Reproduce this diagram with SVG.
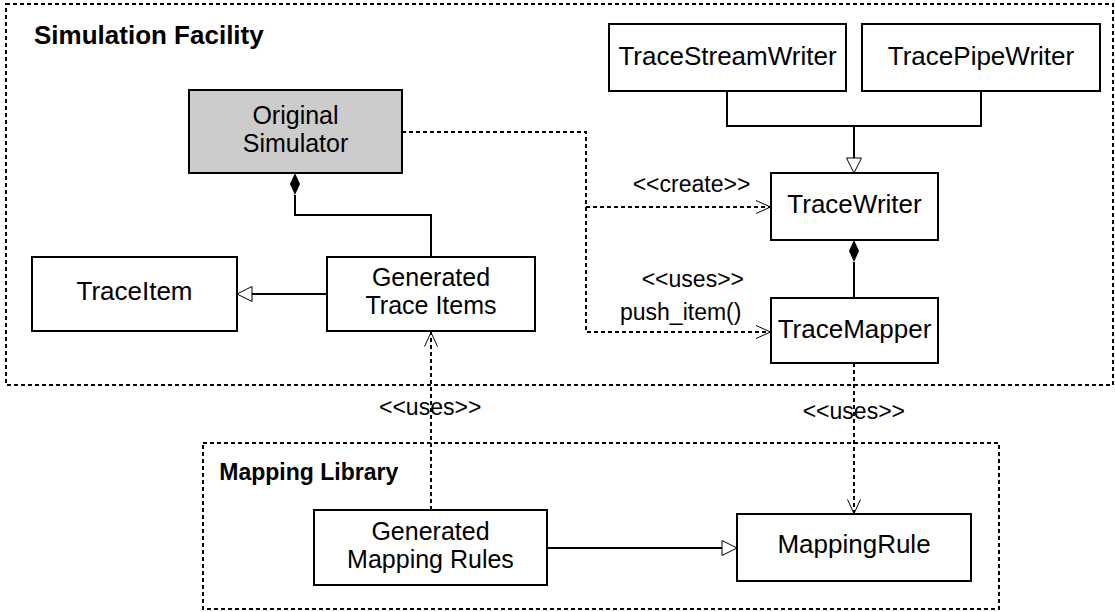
<svg xmlns="http://www.w3.org/2000/svg" width="1115" height="612" viewBox="0 0 1115 612">
<style>
.box{fill:#fff;stroke:#000;stroke-width:2}
.gray{fill:#cccccc}
.frame{fill:none;stroke:#000;stroke-width:2;stroke-dasharray:4 3}
.t{font-family:"Liberation Sans",Arial,sans-serif;font-size:26px;text-anchor:middle;fill:#000}
.t2{font-size:25px}
.lbl{font-family:"Liberation Sans",Arial,sans-serif;font-size:23px;fill:#000}
.title{font-family:"Liberation Sans",Arial,sans-serif;font-weight:bold;fill:#000}
.solid{fill:none;stroke:#000;stroke-width:2}
.dash{fill:none;stroke:#000;stroke-width:2;stroke-dasharray:4 3}
.tri{fill:#fff;stroke:#000;stroke-width:1}
.open{fill:none;stroke:#000;stroke-width:1}
.dia{fill:#000}
</style>
<rect width="1115" height="612" fill="#fff"/>
<g id="frames">
<rect class="frame" x="6" y="4" width="1107" height="381"/>
<text class="title" x="34" y="44" font-size="26">Simulation Facility</text>
<rect class="frame" x="203" y="443" width="796" height="166"/>
<text class="title" x="219.3" y="480" font-size="23">Mapping Library</text>
</g>
<g id="connectors">
<path class="solid" d="M295,195 V215 H431 V257"/>
<path class="dia" d="M295,173 L300,184 L295,195 L290,184 Z"/>
<path class="solid" d="M327,294 H252"/>
<polygon class="tri" points="237,294 252,286.5 252,301.5"/>
<path class="solid" d="M727,91 V126 H981 V91 M854,126 V158"/>
<polygon class="tri" points="854,173 846.5,158 861.5,158"/>
<path class="dia" d="M854,240 L859,251 L854,262 L849,251 Z"/>
<path class="solid" d="M854,262 V298"/>
<path class="dash" d="M402,132 H586 V332 H771 M586,207 H771"/>
<path class="open" d="M756,200.5 L770.5,207 L756,213.5 M756,325.5 L770.5,332 L756,338.5"/>
<path class="dash" d="M854,363 V514"/>
<path class="open" d="M847.5,499.5 L854,513.5 L860.5,499.5"/>
<path class="dash" d="M431,510 V332"/>
<path class="open" d="M424.5,346.5 L431,332.5 L437.5,346.5"/>
<path class="solid" d="M547,548 H722"/>
<polygon class="tri" points="737,548 722,540.5 722,555.5"/>
<text class="lbl" x="632.7" y="191.7">&lt;&lt;create&gt;&gt;</text>
<text class="lbl" x="641.7" y="286.7">&lt;&lt;uses&gt;&gt;</text>
<text class="lbl" x="620" y="320">push_item()</text>
<text class="lbl" x="379" y="415">&lt;&lt;uses&gt;&gt;</text>
<text class="lbl" x="802.7" y="419.3">&lt;&lt;uses&gt;&gt;</text>
</g>
<g id="original-simulator">
<rect class="box gray" x="189" y="90" width="213" height="83"/>
<text class="t t2" x="295.5" y="124.3">Original</text>
<text class="t t2" x="295.5" y="152.3">Simulator</text>
</g>
<g id="trace-item">
<rect class="box" x="32" y="257" width="205" height="74"/>
<text class="t" x="134.5" y="300">TraceItem</text>
</g>
<g id="generated-trace-items">
<rect class="box" x="327" y="257" width="208" height="74"/>
<text class="t t2" x="431" y="286.3">Generated</text>
<text class="t t2" x="431" y="314.3">Trace Items</text>
</g>
<g id="trace-stream-writer">
<rect class="box" x="609" y="24" width="237" height="67"/>
<text class="t" x="727.5" y="65">TraceStreamWriter</text>
</g>
<g id="trace-pipe-writer">
<rect class="box" x="862" y="24" width="238" height="67"/>
<text class="t" x="981" y="65">TracePipeWriter</text>
</g>
<g id="trace-writer">
<rect class="box" x="771" y="173" width="167" height="67"/>
<text class="t" x="854.5" y="213.3">TraceWriter</text>
</g>
<g id="trace-mapper">
<rect class="box" x="771" y="298" width="167" height="65"/>
<text class="t" x="854.5" y="338.3">TraceMapper</text>
</g>
<g id="generated-mapping-rules">
<rect class="box" x="314" y="510" width="233" height="75"/>
<text class="t t2" x="430.5" y="539.7">Generated</text>
<text class="t t2" x="430.5" y="567.7">Mapping Rules</text>
</g>
<g id="mapping-rule">
<rect class="box" x="737" y="514" width="234" height="67"/>
<text class="t" x="854" y="553.3">MappingRule</text>
</g>
</svg>
